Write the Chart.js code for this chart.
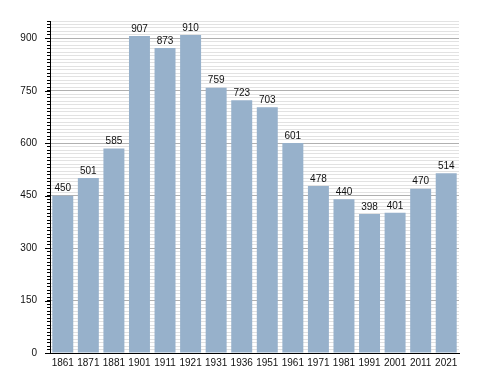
<!DOCTYPE html>
<html><head><meta charset="utf-8">
<script src="https://cdn.jsdelivr.net/npm/chart.js@4/dist/chart.umd.min.js"></script>
<style>html,body{margin:0;padding:0;background:#fff}#wrap{width:488px;height:373px}</style>
</head><body><div id="wrap"><canvas id="c" width="488" height="373"></canvas></div>
<script>
const years = ['1861','1871','1881','1901','1911','1921','1931','1936','1951','1961','1971','1981','1991','2001','2011','2021'];
const population = [450,501,585,907,873,910,759,723,703,601,478,440,398,401,470,514];
const yMin = 0, yMax = 950, minorStep = 10, majorStep = 150;

const FONT = '"Liberation Sans", Arial, sans-serif';

const valueLabels = {
  id: 'valueLabels',
  afterDatasetsDraw(chart) {
    const ctx = chart.ctx;
    const meta = chart.getDatasetMeta(0);
    ctx.save();
    ctx.font = '10px ' + FONT;
    ctx.fillStyle = '#111';
    ctx.textAlign = 'center';
    ctx.textBaseline = 'bottom';
    meta.data.forEach((bar, i) => {
      ctx.fillText(String(population[i]), bar.x, bar.y - 2);
    });
    ctx.restore();
  }
};

const majorTicks = {
  id: 'majorTicks',
  afterDraw(chart) {
    const s = chart.scales.y;
    const ctx = chart.ctx;
    ctx.save();
    ctx.strokeStyle = '#000';
    ctx.lineWidth = 1;
    for (let v = yMin; v <= yMax; v += majorStep) {
      const y = Math.round(s.getPixelForValue(v)) + 0.5;
      ctx.beginPath();
      ctx.moveTo(s.right - 5, y);
      ctx.lineTo(s.right, y);
      ctx.stroke();
    }
    ctx.restore();
  }
};

new Chart(document.getElementById('c'), {
  type: 'bar',
  data: {
    labels: years,
    datasets: [{
      data: population,
      backgroundColor: '#97b1cb',
      borderWidth: 0,
      categoryPercentage: 1.0,
      barPercentage: 0.82
    }]
  },
  options: {
    responsive: false,
    animation: false,
    devicePixelRatio: 1,
    layout: { padding: { left: 0, right: 29, top: 21, bottom: 0 } },
    plugins: { legend: { display: false }, tooltip: { enabled: false } },
    scales: {
      x: {
        offset: true,
        grid: { display: false, drawTicks: false },
        border: { display: true, color: '#000', width: 1 },
        ticks: { color: '#111', font: { family: FONT, size: 10 }, padding: 4, maxRotation: 0, autoSkip: false },
        afterFit(s) { s.height = 20; }
      },
      y: {
        min: yMin, max: yMax,
        grid: {
          color: ctx => (ctx.tick && ctx.tick.value % majorStep === 0) ? '#b0b0b0' : '#e2e2e2',
          tickColor: '#000',
          tickLength: 3,
          drawTicks: true
        },
        border: { display: true, color: '#000', width: 1 },
        ticks: {
          stepSize: minorStep,
          maxTicksLimit: 500,
          autoSkip: false,
          padding: 10,
          color: '#111',
          font: { family: FONT, size: 10 },
          callback: v => (v % majorStep === 0) ? String(v) : ''
        },
        afterFit(s) { s.width = 50; }
      }
    }
  },
  plugins: [valueLabels, majorTicks]
});
</script></body></html>
